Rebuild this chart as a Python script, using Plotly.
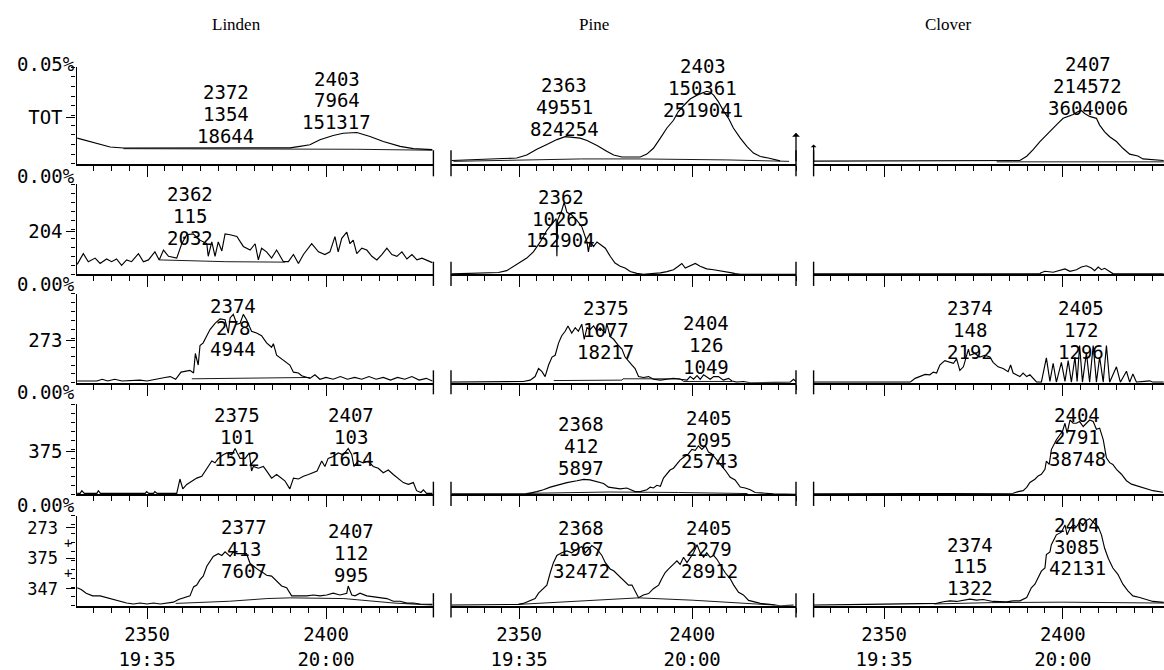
import plotly.graph_objects as go

# ---------------------------------------------------------------------------
# Ion chromatograms (scan number, relative intensity in % of panel full scale)
# rows: TOT, m/z 204, 273, 375, 273+375+347 ; columns: Linden, Pine, Clover
# ---------------------------------------------------------------------------
samples = ["Linden", "Pine", "Clover"]
ion_labels = ["TOT", "204", "273", "375", ["273", "375", "347"]]

linden_tot = [(2330.5, 26.5), (2334.1, 23.1), (2336.9, 20.7), (2339.7, 17.3), (2343.4, 16.3),
              (2355.5, 16.3), (2364.8, 17.0), (2374.1, 17.0), (2383.4, 16.8), (2389.9, 16.5),
              (2392.7, 18.0), (2395.5, 19.7), (2398.3, 24.8), (2402.0, 29.3), (2404.8, 31.6),
              (2408.6, 32.3), (2412.3, 28.2), (2416.0, 23.1), (2420.7, 18.0), (2424.4, 15.6),
              (2429.7, 14.6)]
linden_204 = [(2330.5, 11), (2332.2, 23), (2333.6, 14), (2335.5, 18), (2336.9, 12), (2338.7, 17),
              (2340.1, 14), (2341.5, 17), (2342.9, 10), (2344.3, 16), (2345.7, 14), (2347.6, 23),
              (2349.0, 14), (2350.4, 16), (2352.2, 25), (2353.4, 16), (2354.6, 27), (2356.0, 20),
              (2358.3, 18), (2359.7, 34), (2361.1, 44), (2362.9, 45), (2364.8, 38), (2366.7, 34),
              (2367.1, 20), (2368.1, 36), (2369.0, 20), (2369.9, 36), (2370.9, 26), (2371.8, 45),
              (2373.2, 44), (2375.1, 42), (2376.9, 31), (2378.8, 27), (2380.2, 34), (2381.1, 16),
              (2382.0, 29), (2383.4, 25), (2384.8, 18), (2386.2, 27), (2388.1, 14), (2389.5, 14),
              (2390.9, 22), (2392.3, 12), (2393.7, 22), (2396.0, 34), (2397.9, 25), (2399.7, 22),
              (2401.1, 25), (2402.5, 42), (2403.4, 25), (2404.4, 40), (2405.8, 47), (2406.7, 34),
              (2407.6, 38), (2408.6, 23), (2410.0, 29), (2411.4, 27), (2412.8, 20), (2414.2, 16),
              (2415.6, 22), (2417.0, 29), (2418.4, 22), (2419.8, 20), (2421.2, 25), (2422.6, 17),
              (2424.0, 22), (2425.4, 16), (2426.8, 18), (2428.1, 16), (2429.7, 13)]
linden_273 = [(2330.5, 2), (2336.0, 2), (2337.5, 4), (2339.0, 2), (2341.0, 4), (2343.0, 2),
              (2348.0, 3), (2350.0, 2), (2355.0, 6), (2356.5, 7), (2358.0, 4), (2359.5, 12),
              (2362.0, 14), (2363.0, 11), (2363.5, 33), (2364.3, 20), (2364.8, 42), (2365.7, 45),
              (2366.7, 53), (2367.6, 60), (2369.0, 67), (2370.4, 72), (2371.8, 71), (2372.7, 56),
              (2373.2, 73), (2374.1, 77), (2375.1, 66), (2376.0, 67), (2376.9, 77), (2377.8, 71),
              (2379.2, 58), (2380.6, 56), (2382.0, 53), (2383.4, 45), (2384.8, 40), (2385.3, 44),
              (2386.2, 31), (2387.6, 27), (2389.0, 23), (2389.9, 20), (2390.9, 12), (2392.3, 11),
              (2393.2, 8), (2394.6, 6), (2395.5, 5), (2396.9, 9), (2398.3, 4), (2400.0, 6),
              (2402.0, 4), (2404.0, 7), (2406.0, 4), (2408.0, 6), (2410.0, 4), (2412.0, 7),
              (2414.0, 4), (2416.0, 6), (2418.0, 3), (2420.0, 6), (2422.0, 4), (2424.0, 7),
              (2426.0, 3), (2428.0, 5), (2429.7, 2)]
linden_375 = [(2330.5, 1), (2331.3, 1), (2331.8, 4), (2332.5, 1), (2336.0, 1), (2336.4, 4),
              (2337.0, 1), (2349.5, 1), (2349.9, 3), (2350.5, 1), (2351.8, 1), (2352.2, 3),
              (2352.8, 1), (2358.3, 1), (2359.2, 17), (2360.0, 6), (2361.1, 11), (2362.5, 15),
              (2363.9, 18), (2365.3, 20), (2366.7, 28), (2368.1, 37), (2369.0, 35), (2369.9, 40),
              (2371.3, 44), (2372.3, 46), (2373.7, 44), (2374.6, 51), (2375.2, 46), (2376.0, 40),
              (2377.4, 40), (2378.6, 46), (2379.2, 26), (2379.7, 31), (2381.1, 29), (2382.5, 31),
              (2383.4, 26), (2384.8, 18), (2386.2, 22), (2387.6, 18), (2388.5, 15), (2389.9, 6),
              (2390.9, 18), (2392.3, 17), (2393.7, 20), (2395.1, 22), (2396.5, 24), (2397.5, 26),
              (2398.8, 37), (2399.7, 31), (2400.6, 40), (2402.0, 42), (2403.4, 46), (2404.8, 44),
              (2406.2, 51), (2407.2, 44), (2407.8, 31), (2409.0, 37), (2410.4, 35), (2411.8, 37),
              (2413.2, 31), (2414.6, 29), (2416.0, 24), (2417.4, 27), (2418.8, 22), (2420.2, 18),
              (2421.6, 13), (2423.0, 11), (2424.4, 13), (2425.3, 4), (2426.5, 2), (2427.2, 5),
              (2428.1, 1), (2429.7, 1)]
linden_sum = [(2330.5, 20), (2331.6, 18), (2333.0, 14), (2334.8, 11), (2336.9, 11), (2338.7, 9),
              (2340.6, 7), (2342.5, 5), (2344.3, 3), (2346.2, 2), (2348.1, 3), (2350.0, 2),
              (2351.8, 3), (2353.7, 2), (2355.6, 3), (2357.4, 4), (2358.8, 7), (2360.2, 9),
              (2362.0, 11), (2363.0, 21), (2363.9, 23), (2364.8, 29), (2365.7, 33), (2366.7, 44),
              (2367.6, 49), (2368.5, 55), (2369.9, 58), (2370.9, 56), (2371.8, 60), (2373.2, 55),
              (2374.1, 60), (2375.1, 58), (2376.4, 58), (2377.8, 58), (2378.8, 47), (2379.7, 44),
              (2381.1, 40), (2382.0, 38), (2383.4, 34), (2384.8, 33), (2386.2, 27), (2387.6, 22),
              (2389.0, 20), (2390.4, 11), (2392.7, 11), (2394.6, 11), (2396.5, 12), (2398.3, 11),
              (2400.2, 12), (2402.0, 14), (2403.9, 12), (2405.8, 14), (2406.2, 22), (2407.2, 12),
              (2408.1, 11), (2409.5, 14), (2411.4, 11), (2413.2, 10), (2415.1, 9), (2417.0, 8),
              (2418.8, 5), (2420.7, 5), (2422.6, 3), (2424.4, 3), (2426.3, 2), (2428.1, 1.5),
              (2429.7, 1.5)]

pine_tot = [(2330.5, 3.4), (2349.3, 6), (2352.2, 9), (2355.1, 15), (2358.0, 20), (2360.9, 25),
            (2363.3, 28), (2365.7, 27), (2367.6, 26.5), (2369.6, 24), (2372.5, 19), (2375.3, 13),
            (2377.3, 9), (2379.7, 7), (2385.0, 7), (2386.9, 10), (2388.8, 16), (2390.8, 26.5),
            (2392.7, 37), (2394.6, 45), (2396.0, 54), (2397.5, 60), (2399.4, 67), (2401.4, 71),
            (2403.3, 74), (2404.2, 75), (2405.2, 74), (2406.2, 71), (2407.6, 64), (2409.0, 55),
            (2410.5, 47), (2411.9, 37), (2413.9, 26.5), (2415.8, 18), (2417.7, 11), (2419.7, 7.5),
            (2422.0, 6), (2424.5, 4), (2425.4, 3)]
pine_204 = [(2330.5, 0.5), (2344.0, 2), (2346.4, 4), (2349.3, 11), (2352.2, 18), (2354.1, 25),
            (2356.1, 36), (2358.0, 49), (2359.5, 56), (2360.7, 62), (2360.9, 20), (2361.1, 60),
            (2362.3, 71), (2363.0, 80), (2363.8, 69), (2365.2, 66), (2366.7, 60), (2368.1, 53),
            (2369.6, 36), (2370.0, 25), (2370.5, 36), (2371.5, 31), (2372.5, 36), (2373.4, 33),
            (2374.9, 29), (2376.3, 20), (2377.7, 12.5), (2379.2, 9), (2380.6, 7), (2382.1, 3),
            (2384.0, 1), (2385.9, 0), (2388.8, 0.5), (2390.8, 1.5), (2392.7, 3), (2394.6, 5),
            (2396.0, 9), (2397.0, 12), (2398.0, 7), (2399.4, 9), (2400.9, 12), (2402.3, 9),
            (2404.2, 6), (2406.2, 5), (2408.1, 4), (2410.0, 3), (2411.5, 1.5), (2412.4, 0.7),
            (2413.9, 0), (2430.5, 0)]
pine_273 = [(2330.5, 0.7), (2351.2, 1.5), (2353.2, 3), (2354.6, 7), (2355.6, 16), (2356.6, 12.5),
            (2357.5, 7), (2358.5, 20), (2359.5, 29), (2360.4, 31), (2361.4, 45), (2362.3, 53),
            (2363.3, 58), (2364.1, 64), (2365.2, 56), (2366.2, 62), (2367.1, 58), (2368.1, 66),
            (2368.8, 49), (2369.6, 62), (2370.5, 60), (2371.5, 64), (2372.5, 58), (2373.4, 62),
            (2374.9, 56), (2375.3, 67), (2376.3, 52), (2377.3, 49), (2378.7, 42), (2379.7, 38),
            (2380.6, 29), (2381.6, 25), (2382.6, 20), (2383.5, 16), (2384.5, 7), (2385.9, 6),
            (2387.4, 7), (2388.8, 4), (2390.8, 3), (2392.7, 4), (2394.6, 5), (2396.5, 4),
            (2398.5, 3), (2399.4, 7), (2400.4, 4), (2401.4, 8), (2402.3, 4), (2403.3, 9),
            (2404.2, 7), (2405.2, 4), (2406.2, 7), (2407.6, 7), (2409.0, 3), (2410.5, 5),
            (2411.5, 2), (2412.9, 0.7), (2414.8, 1.5), (2416.8, 0), (2428.3, 0.7), (2429.3, 4),
            (2430.2, 0.7)]
pine_375 = [(2330.5, 0.4), (2352.2, 0.4), (2355.1, 3), (2357.0, 5), (2359.0, 8), (2360.9, 10),
            (2363.8, 13), (2366.7, 15), (2368.6, 16.5), (2370.5, 16), (2372.5, 14), (2374.4, 12),
            (2375.8, 8), (2377.3, 7), (2379.2, 6), (2381.1, 7), (2382.6, 5), (2383.5, 3),
            (2385.0, 3), (2386.9, 5), (2387.9, 8), (2388.8, 7), (2389.8, 10), (2390.8, 9),
            (2391.7, 18), (2392.7, 23), (2393.6, 27), (2394.6, 29), (2395.6, 34), (2396.5, 38),
            (2397.5, 41), (2398.9, 45), (2399.9, 50), (2400.9, 49), (2401.8, 54), (2402.8, 50),
            (2403.8, 54), (2404.7, 47), (2405.7, 45), (2406.6, 41), (2408.1, 34), (2409.5, 27),
            (2411.0, 19), (2412.4, 16), (2413.9, 8), (2415.3, 7), (2416.8, 5), (2418.2, 2),
            (2423.5, 0.4), (2430.2, 0)]
pine_sum = [(2330.5, 0.7), (2349.8, 1.5), (2351.2, 2.6), (2353.2, 6), (2354.6, 8), (2355.6, 14),
            (2357.0, 19), (2358.0, 23), (2359.0, 37), (2359.9, 48), (2360.9, 56), (2362.3, 59),
            (2363.8, 61), (2365.2, 59), (2366.7, 63), (2368.1, 66), (2369.1, 59), (2370.0, 63),
            (2371.0, 67), (2372.5, 63), (2373.9, 56), (2374.9, 48), (2376.3, 41), (2377.3, 39),
            (2378.7, 34), (2380.1, 28), (2381.6, 23), (2382.6, 23), (2383.5, 17), (2384.5, 9),
            (2385.9, 12), (2387.4, 13.6), (2388.8, 19), (2390.3, 23), (2391.2, 30), (2392.2, 37),
            (2393.2, 41), (2394.6, 46), (2395.6, 50), (2396.5, 46), (2397.5, 54), (2398.5, 48),
            (2399.4, 54), (2400.4, 59), (2401.4, 68), (2402.3, 59), (2403.3, 54), (2404.2, 59),
            (2405.2, 54), (2406.2, 56), (2407.1, 52), (2408.6, 43), (2409.5, 37), (2411.0, 30),
            (2412.0, 23), (2413.4, 15), (2414.8, 12), (2416.3, 6), (2418.2, 4), (2419.7, 2.6),
            (2422.5, 1.5), (2425.4, 0), (2429.3, 0.7)]

clover_tot = [(2330.3, 2.7), (2381.5, 2.7), (2388.0, 3.4), (2389.9, 7.8), (2391.7, 14.6),
              (2393.6, 23), (2395.4, 30), (2397.3, 37), (2398.7, 42), (2400.1, 47), (2401.5, 49),
              (2402.9, 51), (2404.3, 54), (2405.2, 55), (2406.1, 52), (2407.5, 49), (2409.4, 47),
              (2410.3, 40), (2411.7, 33), (2413.1, 28), (2415.0, 23), (2416.8, 16), (2418.7, 10),
              (2421.0, 8), (2422.4, 5), (2424.3, 4.4), (2426.2, 4), (2428.2, 3.4)]
clover_204 = [(2330.3, 0.5), (2393.6, 0.5), (2393.8, 1.5), (2395.0, 3.3), (2397.3, 2.2),
              (2399.2, 4.4), (2400.6, 5.9), (2402.0, 3.3), (2403.8, 5.1), (2405.2, 8.1),
              (2406.6, 9.5), (2408.0, 7), (2408.9, 4), (2409.9, 8.1), (2410.8, 5.1), (2411.7, 6.6),
              (2413.1, 3.3), (2414.1, 0.5), (2428.2, 0.5)]
clover_273 = [(2330.3, 0.7), (2357.3, 0.7), (2358.7, 5), (2360.1, 7), (2361.5, 9.5), (2362.8, 9),
              (2363.8, 12), (2364.7, 11), (2365.6, 20), (2367.0, 25), (2368.4, 23), (2369.4, 22),
              (2370.3, 27), (2371.2, 14), (2372.2, 18), (2372.9, 29), (2373.6, 38), (2374.0, 31),
              (2375.4, 33), (2376.8, 29), (2378.2, 31), (2379.6, 29), (2380.5, 23), (2381.9, 18),
              (2383.3, 16), (2384.7, 12.5), (2385.4, 20), (2386.1, 11), (2387.1, 9), (2388.0, 7),
              (2388.9, 11), (2389.9, 7), (2390.8, 9), (2391.7, 5), (2392.7, 0.7), (2394.0, 0.7),
              (2395.4, 28), (2396.4, 1.5), (2397.3, 22), (2398.2, 0.7), (2399.6, 23), (2400.6, 1.5),
              (2401.5, 25), (2402.4, 0.7), (2403.4, 29), (2404.0, 1.5), (2404.7, 42), (2405.5, 0.7),
              (2406.6, 34), (2407.5, 0.7), (2408.5, 42), (2409.4, 0.7), (2410.3, 29), (2411.3, 0.7),
              (2412.2, 42), (2413.1, 0.7), (2415.0, 18), (2416.1, 0.7), (2417.8, 13), (2418.7, 0.7),
              (2419.6, 10), (2420.6, 0.7), (2424.3, 2.2), (2425.2, 0.7), (2428.2, 0.7)]
clover_375 = [(2330.3, 0.4), (2386.1, 1.1), (2387.5, 2.9), (2388.9, 4), (2389.9, 7.7), (2390.8, 13.2),
              (2392.2, 16.8), (2393.1, 20.5), (2394.0, 22.3), (2395.0, 27.8), (2395.4, 37),
              (2396.2, 33.3), (2396.8, 49.8), (2397.3, 53.5), (2398.2, 60.8), (2399.2, 66.3),
              (2399.9, 70), (2400.6, 79.1), (2401.2, 68.1), (2402.0, 82.7), (2402.9, 79.1),
              (2403.8, 79.1), (2404.7, 81), (2405.7, 75.5), (2406.6, 79.1), (2407.5, 82.7),
              (2408.5, 81), (2409.4, 72.5), (2410.3, 73.6), (2411.3, 60.8), (2412.2, 40.7),
              (2413.1, 35.2), (2414.0, 33.3), (2415.0, 27.8), (2416.4, 22.3), (2417.8, 15.1),
              (2419.2, 11.3), (2420.6, 9.5), (2422.0, 8.4), (2423.4, 5.8), (2425.2, 4), (2428.0, 2.2)]
clover_sum = [(2330.3, 0.7), (2361.9, 1.8), (2364.7, 2.6), (2366.6, 4.4), (2368.4, 5.5), (2370.3, 4.8),
              (2372.2, 6.2), (2374.0, 7.3), (2375.9, 6.2), (2377.7, 7), (2380.5, 4.8), (2384.3, 4.4),
              (2386.1, 5.5), (2388.0, 5.5), (2389.9, 9.2), (2391.2, 20), (2392.2, 24), (2393.1, 31),
              (2394.0, 38.5), (2395.0, 42), (2395.4, 57), (2396.4, 60), (2396.8, 68), (2398.2, 79),
              (2399.6, 82), (2400.6, 90), (2401.2, 79), (2402.0, 86), (2402.9, 90), (2403.8, 88),
              (2404.7, 93), (2405.7, 90), (2406.6, 95), (2407.5, 97), (2408.5, 93), (2409.9, 88),
              (2410.8, 79), (2411.7, 64), (2412.7, 53), (2414.0, 42), (2415.4, 35), (2416.8, 24),
              (2418.2, 16.5), (2419.6, 11), (2421.5, 9.2), (2423.4, 7.3), (2425.2, 4.8), (2428.2, 3.7)]

# integration baselines drawn under the peaks
linden_tot_base = [(2343.4, 15.6), (2408.6, 15.0), (2429.7, 14.0)]
linden_204_base = [(2353.5, 16), (2372.0, 14), (2388.5, 13.5)]
linden_273_base = [(2362.5, 4.5), (2384.5, 6), (2395.5, 6)]
linden_sum_base = [(2358.0, 2.6), (2373.0, 5), (2383.5, 8), (2390.0, 8.8), (2405.0, 8),
                   (2419.0, 3), (2429.7, 0.7)]
pine_tot_base = [(2331.0, 2.5), (2352.0, 3.5), (2368.0, 5), (2385.0, 5), (2410.0, 4), (2428.0, 2.5)]
pine_273_base = [(2360.0, 2.5), (2379.7, 3), (2380.0, 4.5), (2396.5, 4.5), (2397.5, 1.5), (2411.5, 1.5)]
pine_375_base = [(2352.0, 1), (2376.0, 2.5), (2396.0, 2), (2416.0, 0.8)]
pine_sum_base = [(2349.8, 1.5), (2372.5, 6), (2384.5, 8.8), (2400.0, 6.2), (2414.0, 3.3), (2424.0, 0.7)]
clover_tot_base = [(2381.5, 2), (2428.3, 2)]
clover_sum_base = [(2364.0, 2), (2380.0, 3.5), (2400.0, 4), (2415.0, 3.5), (2428.3, 3)]

# peak reports: (scan, height, area)
linden_tot_peaks = [(2372, 1354, 18644), (2403, 7964, 151317)]
linden_204_peaks = [(2362, 115, 2032)]
linden_273_peaks = [(2374, 278, 4944)]
linden_375_peaks = [(2375, 101, 1512), (2407, 103, 1614)]
linden_sum_peaks = [(2377, 413, 7607), (2407, 112, 995)]
pine_tot_peaks = [(2363, 49551, 824254), (2403, 150361, 2519041)]
pine_204_peaks = [(2362, 10265, 152904)]
pine_273_peaks = [(2375, 1077, 18217), (2404, 126, 1049)]
pine_375_peaks = [(2368, 412, 5897), (2405, 2095, 25743)]
pine_sum_peaks = [(2368, 1967, 32472), (2405, 2279, 28912)]
clover_tot_peaks = [(2407, 214572, 3604006)]
clover_204_peaks = []
clover_273_peaks = [(2374, 148, 2192), (2405, 172, 1296)]
clover_375_peaks = [(2404, 2791, 38748)]
clover_sum_peaks = [(2374, 115, 1322), (2404, 3085, 42131)]

scan_ticks = [2350, 2400]
time_ticks = ["19:35", "20:00"]

signals = [[linden_tot, pine_tot, clover_tot],
           [linden_204, pine_204, clover_204],
           [linden_273, pine_273, clover_273],
           [linden_375, pine_375, clover_375],
           [linden_sum, pine_sum, clover_sum]]
baselines = [[linden_tot_base, pine_tot_base, clover_tot_base],
             [linden_204_base, None, None],
             [linden_273_base, pine_273_base, None],
             [None, pine_375_base, None],
             [linden_sum_base, pine_sum_base, clover_sum_base]]
peaks = [[linden_tot_peaks, pine_tot_peaks, clover_tot_peaks],
         [linden_204_peaks, pine_204_peaks, clover_204_peaks],
         [linden_273_peaks, pine_273_peaks, clover_273_peaks],
         [linden_375_peaks, pine_375_peaks, clover_375_peaks],
         [linden_sum_peaks, pine_sum_peaks, clover_sum_peaks]]

# ---------------------------------------------------------------------------
# page geometry (pixels) and styling
# ---------------------------------------------------------------------------
W, H = 1164, 670
COL_PX = [(76.5, 433.4), (451.0, 796.0), (813.6, 1164.0)]
COL_RANGE = [(2330.3, 2430.0), (2330.3, 2430.0), (2330.3, 2428.3)]
ROW_PX = [(68, 166), (187, 278), (298, 388), (410, 501), (523, 614)]
FULL_SCALE = ["0.05%", "0.00%", "0.00%", "0.00%", "0.00%"]
SCALE_LABEL_Y = [65, 178, 288, 397, 512]
# vertical position (in % of panel) of the first report line of every peak label
LABEL_TOP = [[[74, 88], [81, 101], [103]],
             [[89], [86], []],
             [[86.5], [84, 67], [84, 84]],
             [[88, 88], [78, 85], [88]],
             [[87.6, 83], [87, 87], [68, 90]]]
LINE_PX = 22
MONO = "DejaVu Sans Mono"
INK = "black"


def paper_y(row, v):
    top, bot = ROW_PX[row]
    return 1 - (bot - v / 100 * (bot - top)) / H


fig = go.Figure()
annotations = []
shapes = []
layout_axes = {}

for r in range(5):
    top, bot = ROW_PX[r]
    for c in range(3):
        i = r * 3 + c + 1
        xa = "x" if i == 1 else f"x{i}"
        ya = "y" if i == 1 else f"y{i}"
        xkey = "xaxis" if i == 1 else f"xaxis{i}"
        ykey = "yaxis" if i == 1 else f"yaxis{i}"

        pts = signals[r][c]
        fig.add_trace(go.Scatter(x=[p[0] for p in pts], y=[p[1] for p in pts], mode="lines",
                                 line=dict(color=INK, width=1.15), xaxis=xa, yaxis=ya,
                                 hoverinfo="skip"))
        base = baselines[r][c]
        if base:
            fig.add_trace(go.Scatter(x=[p[0] for p in base], y=[p[1] for p in base], mode="lines",
                                     line=dict(color=INK, width=0.9), xaxis=xa, yaxis=ya,
                                     hoverinfo="skip"))

        x0, x1 = COL_PX[c]
        layout_axes[xkey] = dict(
            domain=[x0 / W, x1 / W], range=list(COL_RANGE[c]), anchor=ya,
            showline=True, linecolor=INK, linewidth=1.7, mirror=False,
            ticks="outside", ticklen=11, tickwidth=1.4, tickcolor=INK,
            tickmode="array", tickvals=scan_ticks,
            ticktext=[f"{s}<br>{t}" for s, t in zip(scan_ticks, time_ticks)],
            showticklabels=(r == 4),
            tickfont=dict(family=MONO, size=19, color=INK),
            minor=dict(ticks="outside", ticklen=5, tickwidth=1.3, tickcolor=INK,
                       tickmode="linear", tick0=2330, dtick=5),
            showgrid=False, zeroline=False, fixedrange=True)

        ydom = [1 - bot / H, 1 - top / H]
        if c == 0:
            lab = ion_labels[r]
            ystyle = dict(
                domain=ydom, range=[0, 100], anchor=xa,
                showline=True, linecolor=INK, linewidth=1.3,
                ticks="outside", ticklen=9, tickwidth=1.3, tickcolor=INK,
                tickmode="array",
                tickfont=dict(family=MONO, size=19, color=INK),
                minor=dict(ticks="outside", ticklen=4, tickwidth=1.1, tickcolor=INK,
                           tickmode="linear", tick0=0, dtick=10),
                showgrid=False, zeroline=False, fixedrange=True)
            if isinstance(lab, list):
                ystyle.update(tickvals=[87, 53, 19], ticktext=lab,
                              tickfont=dict(family=MONO, size=17, color=INK),
                              ticklabelstandoff=5)
            else:
                ystyle.update(tickvals=[48], ticktext=[lab])
            layout_axes[ykey] = ystyle
        else:
            layout_axes[ykey] = dict(domain=ydom, range=[0, 100], anchor=xa, visible=False,
                                     fixedrange=True)

        # end markers of the scan axis
        if c < 2:
            shapes.append(dict(type="line", xref=f"{xa} domain", yref=f"{ya} domain",
                               x0=1, x1=1, y0=-0.13, y1=0.14, line=dict(color=INK, width=1.4)))
        if c > 0:
            shapes.append(dict(type="line", xref=f"{xa} domain", yref=f"{ya} domain",
                               x0=0, x1=0, y0=-0.13, y1=0.14, line=dict(color=INK, width=1.4)))

        # peak reports: scan / height / area
        step = LINE_PX / (bot - top) * 100
        for k, pk in enumerate(peaks[r][c]):
            ytop = LABEL_TOP[r][c][k]
            for j, val in enumerate(pk):
                annotations.append(dict(x=pk[0], y=paper_y(r, ytop - j * step), xref=xa,
                                        yref="paper", text=str(val), showarrow=False,
                                        xanchor="center", yanchor="middle",
                                        font=dict(family=MONO, size=19, color=INK)))

    # full-scale marker left of each row
    annotations.append(dict(x=77 / W, y=1 - SCALE_LABEL_Y[r] / H, xref="paper", yref="paper",
                            text=FULL_SCALE[r], showarrow=False, xanchor="right",
                            yanchor="middle", font=dict(family=MONO, size=19, color=INK)))

# "+" signs joining the summed ion labels
for yv in (70, 36):
    annotations.append(dict(x=68 / W, y=paper_y(4, yv), xref="paper", yref="paper", text="+",
                            showarrow=False, xanchor="center", yanchor="middle",
                            font=dict(family=MONO, size=14, color=INK)))

# arrows at the TOT axis ends of Pine and Clover
annotations.append(dict(x=1, y=0.32, xref="x2 domain", yref="y2 domain", text="",
                        showarrow=True, ax=0, ay=30, arrowhead=1, arrowsize=1,
                        arrowwidth=1.3, arrowcolor=INK))
annotations.append(dict(x=0, y=0.2, xref="x3 domain", yref="y3 domain", text="",
                        showarrow=True, ax=0, ay=18, arrowhead=1, arrowsize=0.8,
                        arrowwidth=1.2, arrowcolor=INK))

# sample titles
for name, cx in zip(samples, [236, 594, 948]):
    annotations.append(dict(x=cx / W, y=1 - 25 / H, xref="paper", yref="paper", text=name,
                            showarrow=False, xanchor="center", yanchor="middle",
                            font=dict(family="Liberation Serif", size=17, color=INK)))

fig.update_layout(
    width=W, height=H, margin=dict(l=0, r=0, t=0, b=0),
    paper_bgcolor="white", plot_bgcolor="white", showlegend=False,
    annotations=annotations, shapes=shapes, hovermode=False,
    **layout_axes)

fig.write_html("out.html")
